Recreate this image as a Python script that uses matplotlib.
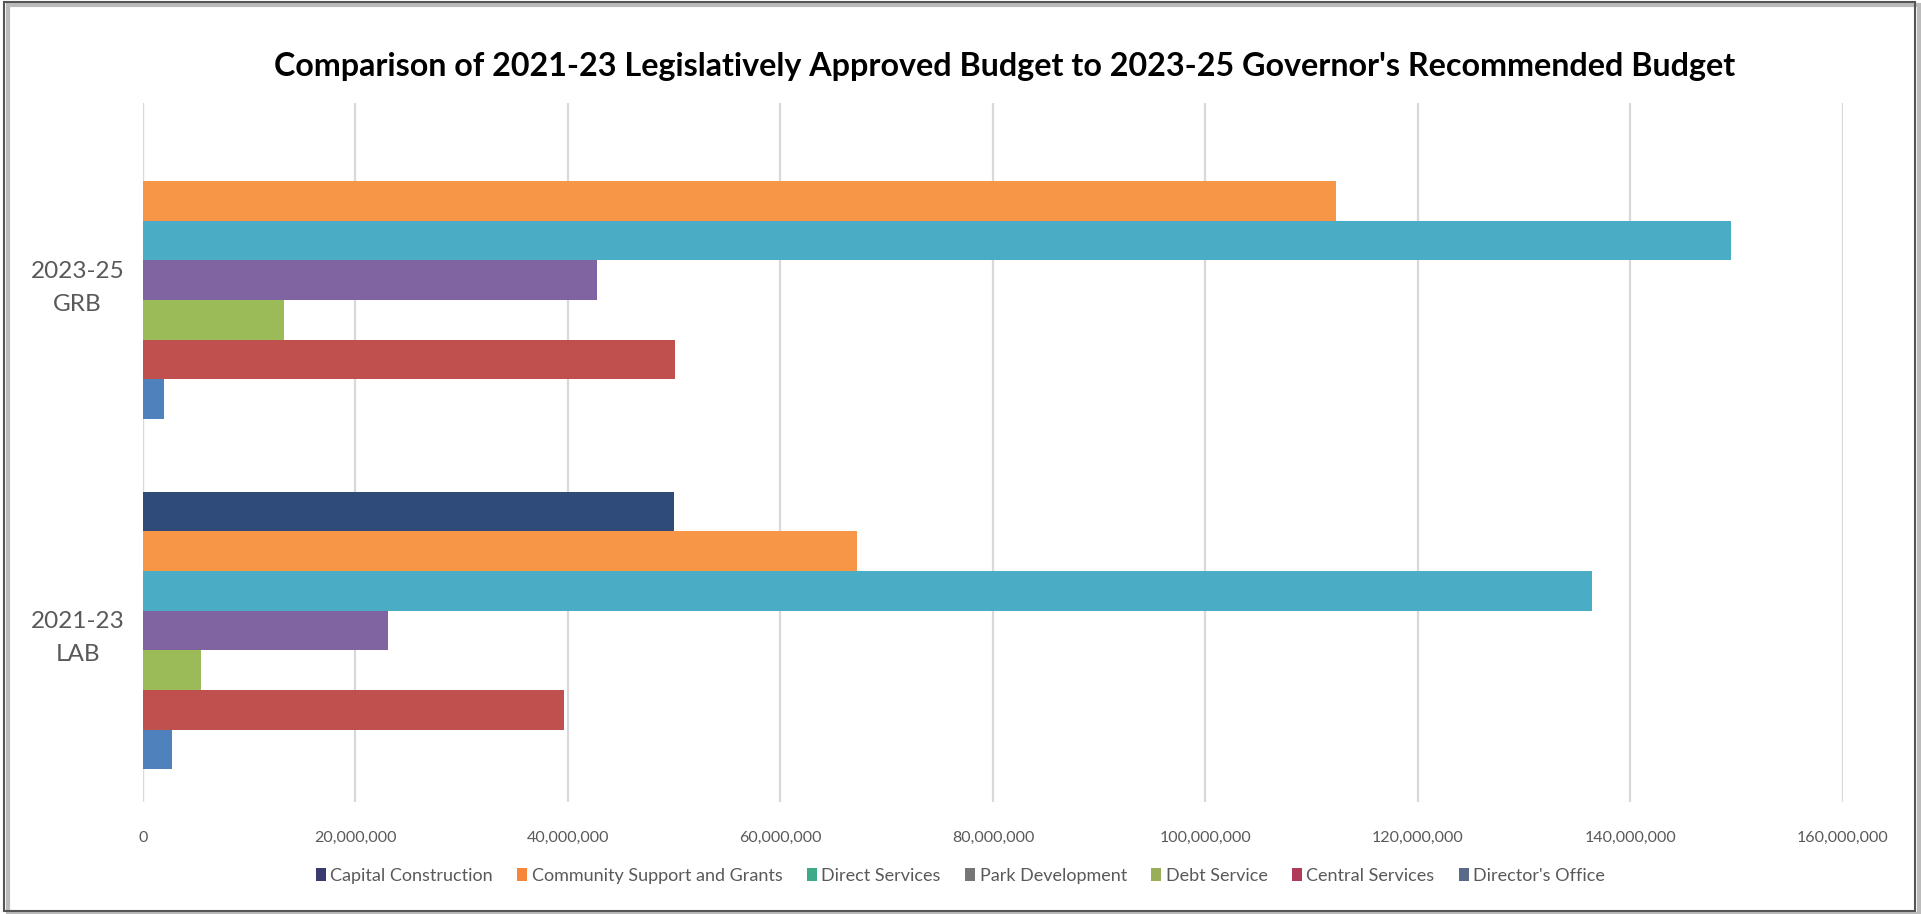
import numpy as np
import matplotlib.pyplot as plt
from matplotlib.patches import Patch, Rectangle
from matplotlib.ticker import FuncFormatter

# Budget periods (bottom to top on the chart)
periods = ["2021-23\nLAB", "2023-25\nGRB"]

programs = ["Capital Construction", "Community Support and Grants", "Direct Services",
            "Park Development", "Debt Service", "Central Services", "Director's Office"]

# Dollars by program, one list per period
lab_2021_23 = [50.0e6, 67.2e6, 136.4e6, 23.1e6, 5.5e6, 39.6e6, 2.7e6]
grb_2023_25 = [0.0, 112.3e6, 149.5e6, 42.7e6, 13.3e6, 50.1e6, 2.0e6]

bar_colors = ["#2f4b7a", "#f79646", "#4bacc6", "#8064a2", "#9bbb59", "#c0504d", "#4f81bd"]
legend_colors = ["#3b3a6e", "#f7863a", "#3daa8a", "#767676", "#9aae5a", "#b03a5a", "#5a6a88"]

xticks = np.arange(0, 160e6 + 1, 20e6)

plt.rcParams["font.family"] = ["Lato", "DejaVu Sans"]

fig = plt.figure(figsize=(19.21, 9.14), dpi=100)
ax = fig.add_axes([0.0744, 0.1225, 0.885, 0.7645])

values = np.array([lab_2021_23, grb_2023_25])
n = len(programs)
bar_h = 0.1133
y = np.arange(len(periods))
for k in range(n):
    # first program sits at the top of each group
    offset = (n - 1) / 2 * bar_h - k * bar_h
    ax.barh(y + offset, values[:, k], height=bar_h, color=bar_colors[k], zorder=3)

ax.set_xlim(0, 160e6)
ax.set_ylim(-0.49, 1.505)
ax.set_xticks(xticks)
ax.xaxis.set_major_formatter(FuncFormatter(lambda v, _: f"{v:,.0f}"))
ax.set_yticks(y)
ax.set_yticklabels(periods, ha="center", multialignment="center", linespacing=1.7)
ax.tick_params(axis="y", length=0, pad=47, labelsize=17.5, labelcolor="#595959")
ax.tick_params(axis="x", length=0, pad=21, labelsize=11.5, labelcolor="#595959")
ax.grid(axis="x", color="#d9d9d9", linewidth=1.6, zorder=0)
ax.axvline(0, color="#d9d9d9", linewidth=1.6, zorder=1)
for s in ax.spines.values():
    s.set_visible(False)

fig.suptitle("Comparison of 2021-23 Legislatively Approved Budget to 2023-25 Governor's Recommended Budget",
             x=0.523, y=0.927, va="center", fontsize=23.2, fontweight="bold", color="black")

handles = [Patch(facecolor=c, edgecolor="none") for c in legend_colors]
leg = fig.legend(handles, programs, loc="center", bbox_to_anchor=(0.5, 0.042), ncol=n,
                 frameon=False, fontsize=13, handlelength=0.55, handleheight=0.75,
                 handletextpad=0.25, columnspacing=1.35)
for t in leg.get_texts():
    t.set_color("#595959")

# outer frame with a soft shadow
fig.patches.append(Rectangle((0.004, 0.0), 0.995, 0.995, transform=fig.transFigure,
                             fill=False, edgecolor="#bbbbbb", linewidth=3))
fig.patches.append(Rectangle((0.002, 0.003), 0.995, 0.995, transform=fig.transFigure,
                             fill=False, edgecolor="#555555", linewidth=1.5))

fig.savefig("out.png", dpi=100)
